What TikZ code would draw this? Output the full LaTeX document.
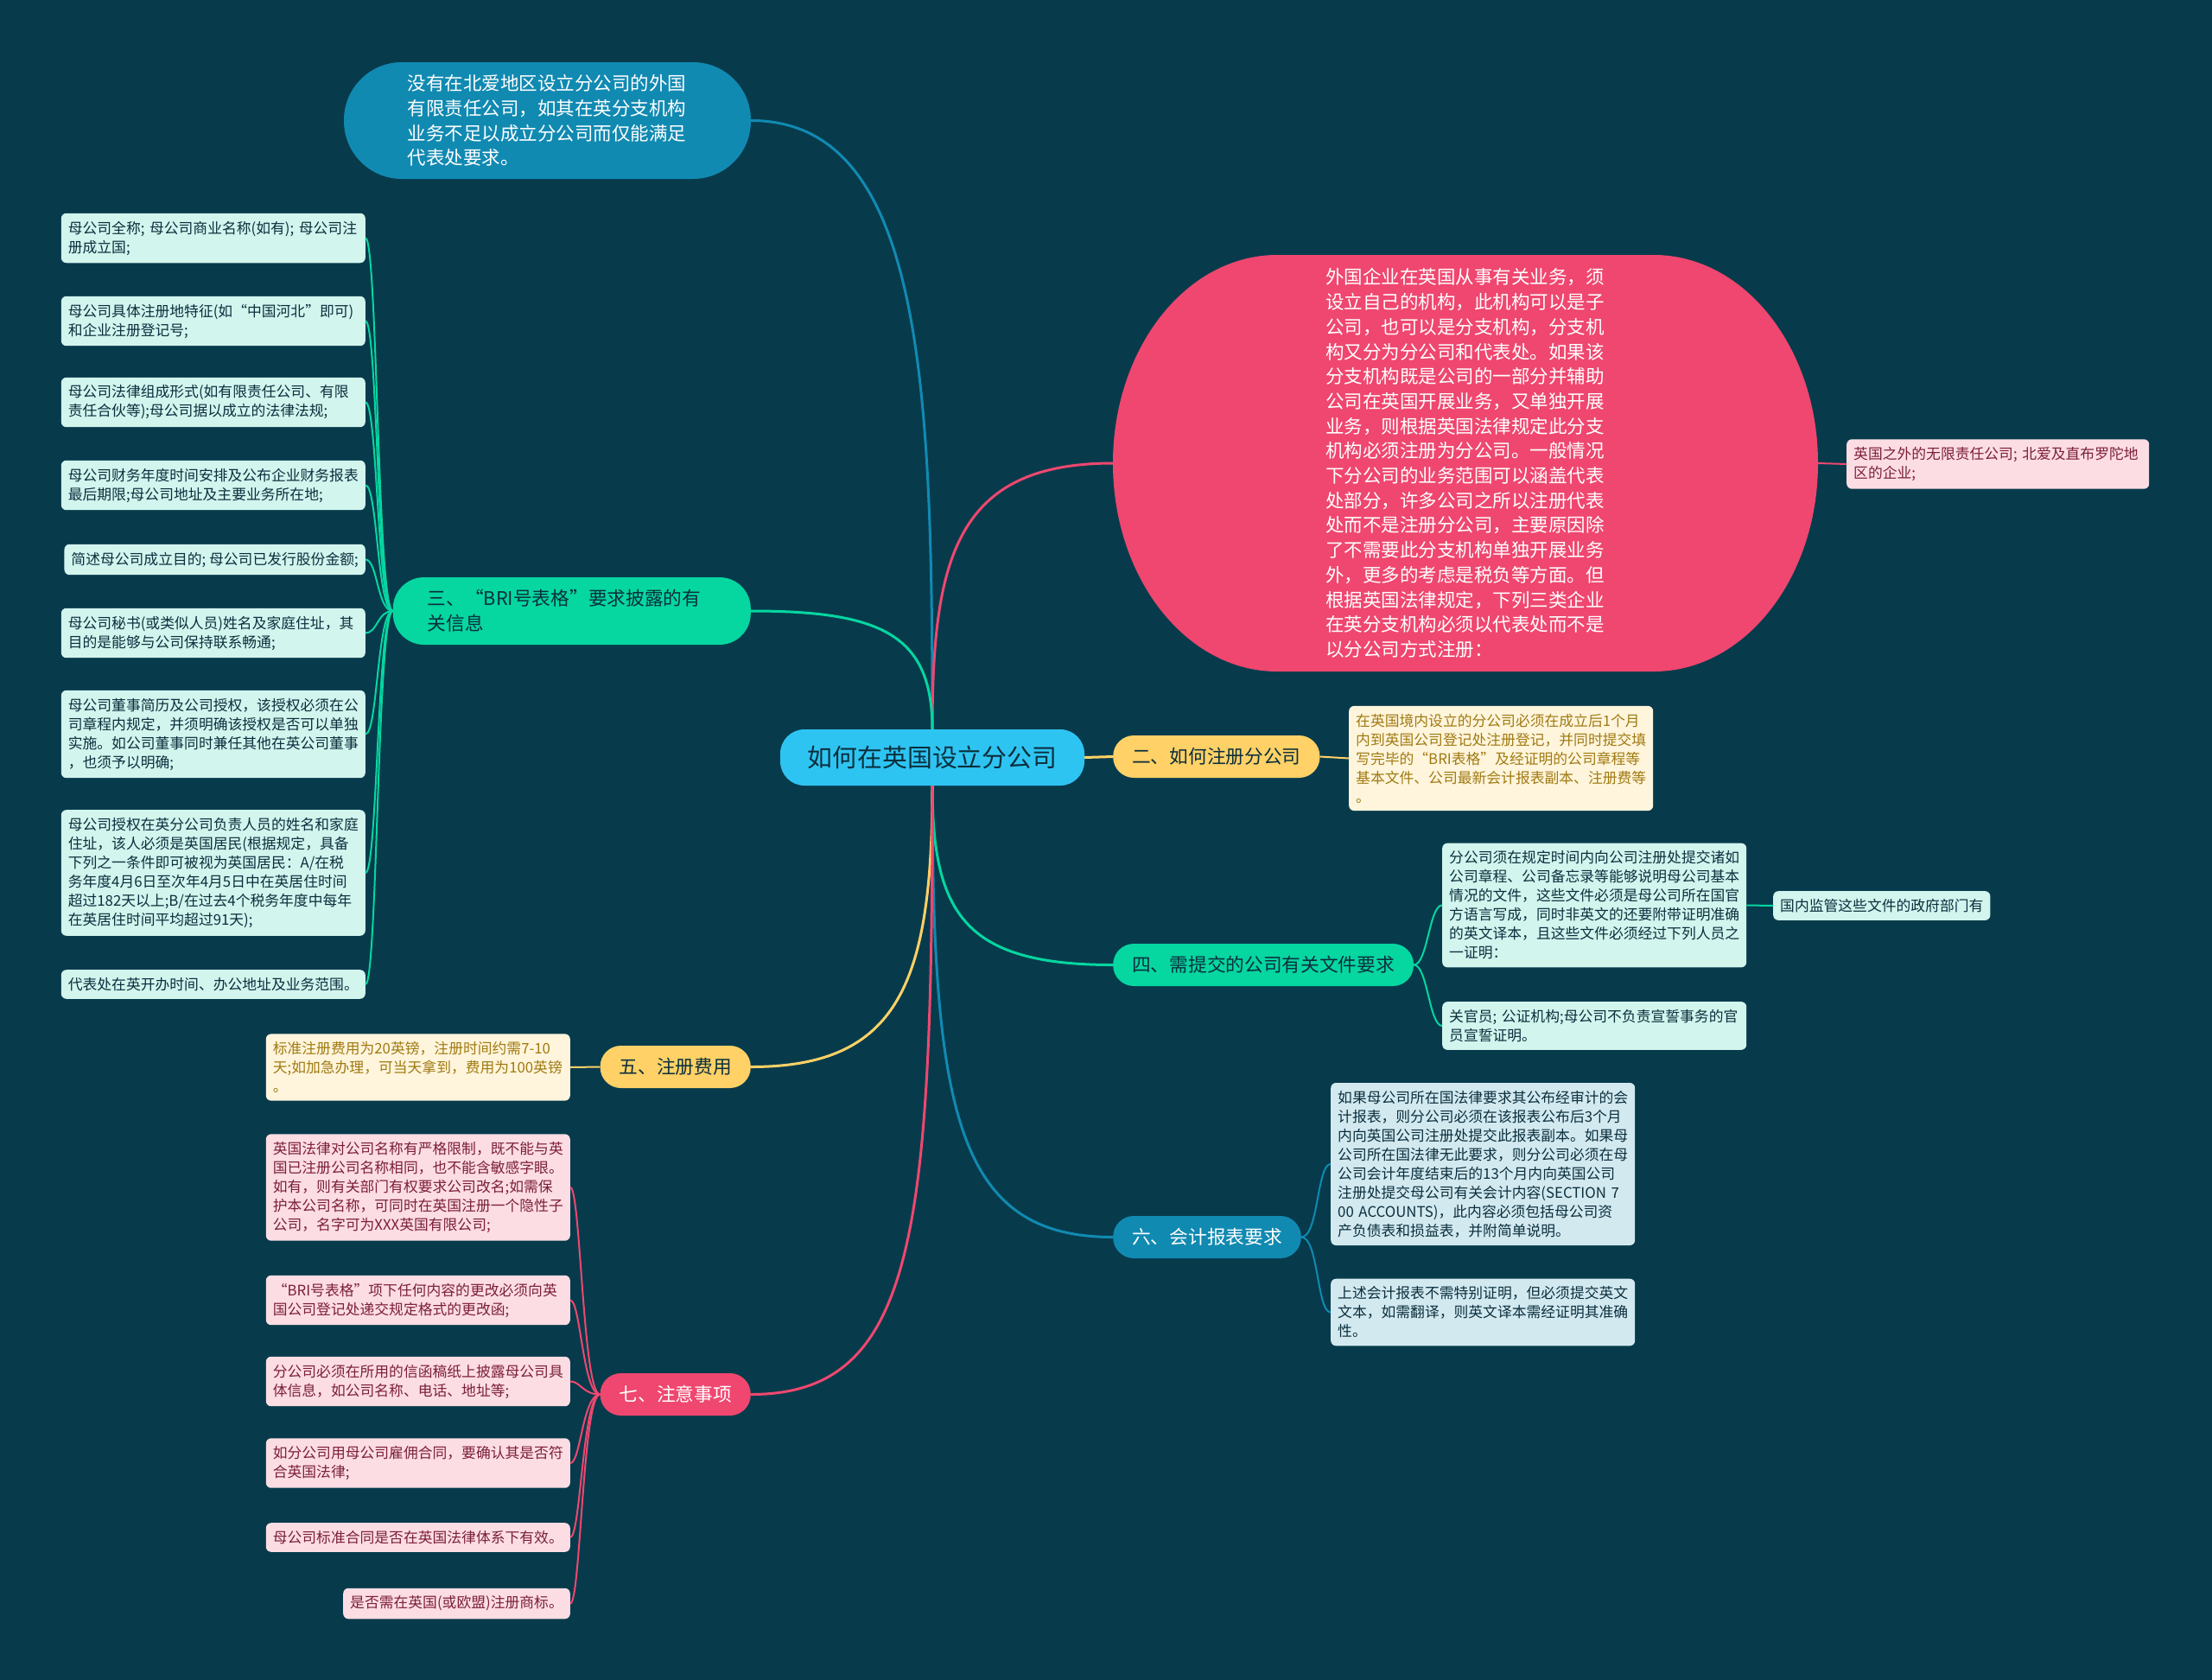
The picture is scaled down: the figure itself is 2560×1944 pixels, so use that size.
\documentclass[tikz,border=0pt]{standalone}
\usepackage{fontspec}
\setmainfont{Noto Sans CJK SC}
\usetikzlibrary{positioning}

\definecolor{bg}{HTML}{073B4C}
\definecolor{mapblue}{HTML}{118AB2}
\definecolor{mappink}{HTML}{EF476F}
\definecolor{mapgreen}{HTML}{06D6A0}
\definecolor{mapyellow}{HTML}{FFD166}
\definecolor{rootblue}{HTML}{2EC4F2}
\definecolor{inkdark}{HTML}{0B2F3D}
\definecolor{leafgreen}{HTML}{D2F5EE}
\definecolor{leafpink}{HTML}{FDDDE4}
\definecolor{inkpink}{HTML}{7B1F3B}
\definecolor{leafyellow}{HTML}{FFF5DC}
\definecolor{inkyellow}{HTML}{A07A12}
\definecolor{leafblue}{HTML}{D3E9F0}

\newcommand{\leaffont}{\fontsize{16.8}{22}\selectfont}
\newcommand{\bodyfont}{\fontsize{21.5}{28.7}\selectfont}

\begin{document}
\begin{tikzpicture}[x=1pt, y=-1pt,
    root/.style={fill=rootblue, text=inkdark, rounded corners=28pt,
                 minimum width=352pt, minimum height=65pt,
                 font=\fontsize{28.9}{34}\selectfont},
    branch/.style={rounded corners=24pt, minimum height=49pt,
                   inner xsep=22pt, font=\fontsize{21.7}{29}\selectfont},
    leafbox/.style={rounded corners=6pt, inner xsep=8pt, inner ysep=9pt,
                    font=\leaffont},
    leaf/.style={leafbox, text width=336pt, align=left},
    greenleaf/.style={fill=leafgreen, text=inkdark},
    pinkleaf/.style={fill=leafpink, text=inkpink},
    yellowleaf/.style={fill=leafyellow, text=inkyellow},
    blueleaf/.style={fill=leafblue, text=inkdark},
    link/.style={line width=3pt},
    twig/.style={line width=2pt}
  ]
  % Background
  \fill[bg] (0,0) rectangle (2560,1944);
  \useasboundingbox (0,0) rectangle (2560,1944);

  % Intro shape
  \fill[mappink] (1478,295) -- (1914,295)
    .. controls (2019,295) and (2104,403) .. (2104,536)
    .. controls (2104,669) and (2019,777) .. (1914,777) -- (1478,777)
    .. controls (1373,777) and (1288,669) .. (1288,536)
    .. controls (1288,403) and (1373,295) .. (1478,295) -- cycle;

  % Root and main branches
  \node[root] (root) at (1079,876.5) {如何在英国设立分公司};
  \node[fill=mapblue, text=white, rounded corners=67pt,
        minimum width=471pt, minimum height=135pt,
        text width=324pt, align=left, font=\bodyfont] (note) at (633.5,139.5)
        {没有在北爱地区设立分公司的外国\\有限责任公司，如其在英分支机构\\业务不足以成立分公司而仅能满足\\代表处要求。};
  \node[minimum width=816pt, minimum height=482pt, inner sep=0pt,
        text=white, text width=324pt, align=left, font=\bodyfont] (intro) at (1696,536)
        {外国企业在英国从事有关业务，须\\设立自己的机构，此机构可以是子\\公司，也可以是分支机构，分支机\\构又分为分公司和代表处。如果该\\分支机构既是公司的一部分并辅助\\公司在英国开展业务，又单独开展\\业务，则根据英国法律规定此分支\\机构必须注册为分公司。一般情况\\下分公司的业务范围可以涵盖代表\\处部分，许多公司之所以注册代表\\处而不是注册分公司，主要原因除\\了不需要此分支机构单独开展业务\\外，更多的考虑是税负等方面。但\\根据英国法律规定，下列三类企业\\在英分支机构必须以代表处而不是\\以分公司方式注册：};
  \node[branch, fill=mapgreen, text=inkdark, rounded corners=36pt,
        minimum height=78pt, inner xsep=40pt, text width=334pt, align=left,
        anchor=east] (sec3) at (869,707)
        {三、“BRI号表格”要求披露的有\\关信息};
  \node[branch, fill=mapyellow, text=inkdark, anchor=west] (sec2) at (1288,875.5) {二、如何注册分公司};
  \node[branch, fill=mapgreen, text=inkdark, anchor=west] (sec4) at (1288,1116.5) {四、需提交的公司有关文件要求};
  \node[branch, fill=mapblue, text=white, anchor=west] (sec6) at (1288,1431.5) {六、会计报表要求};
  \node[branch, fill=mapyellow, text=inkdark, anchor=east] (sec5) at (869,1234.5) {五、注册费用};
  \node[branch, fill=mappink, text=white, anchor=east] (sec7) at (869,1613.5) {七、注意事项};

  % Leaves of 三
  \node[leaf, greenleaf, anchor=east] (g1) at (423,275.5)
        {母公司全称; 母公司商业名称(如有); 母公司注\\册成立国;};
  \node[leaf, greenleaf, anchor=east] (g2) at (423,371.5)
        {母公司具体注册地特征(如“中国河北”即可)\\和企业注册登记号;};
  \node[leaf, greenleaf, anchor=east] (g3) at (423,465.5)
        {母公司法律组成形式(如有限责任公司、有限\\责任合伙等);母公司据以成立的法律法规;};
  \node[leaf, greenleaf, anchor=east] (g4) at (423,561.5)
        {母公司财务年度时间安排及公布企业财务报表\\最后期限;母公司地址及主要业务所在地;};
  \node[leafbox, greenleaf, anchor=east] (g5) at (423,647.5)
        {简述母公司成立目的; 母公司已发行股份金额;};
  \node[leaf, greenleaf, anchor=east] (g6) at (423,732.5)
        {母公司秘书(或类似人员)姓名及家庭住址，其\\目的是能够与公司保持联系畅通;};
  \node[leaf, greenleaf, anchor=east] (g7) at (423,849.5)
        {母公司董事简历及公司授权，该授权必须在公\\司章程内规定，并须明确该授权是否可以单独\\实施。如公司董事同时兼任其他在英公司董事\\，也须予以明确;};
  \node[leaf, greenleaf, anchor=east] (g8) at (423,1010)
        {母公司授权在英分公司负责人员的姓名和家庭\\住址，该人必须是英国居民(根据规定，具备\\下列之一条件即可被视为英国居民：A/在税\\务年度4月6日至次年4月5日中在英居住时间\\超过182天以上;B/在过去4个税务年度中每年\\在英居住时间平均超过91天);};
  \node[leafbox, greenleaf, anchor=east] (g9) at (423,1139)
        {代表处在英开办时间、办公地址及业务范围。};

  % Leaves of 七
  \node[leaf, pinkleaf, anchor=east] (p1) at (660,1374)
        {英国法律对公司名称有严格限制，既不能与英\\国已注册公司名称相同，也不能含敏感字眼。\\如有，则有关部门有权要求公司改名;如需保\\护本公司名称，可同时在英国注册一个隐性子\\公司，名字可为XXX英国有限公司;};
  \node[leaf, pinkleaf, anchor=east] (p2) at (660,1504.5)
        {“BRI号表格”项下任何内容的更改必须向英\\国公司登记处递交规定格式的更改函;};
  \node[leaf, pinkleaf, anchor=east] (p3) at (660,1598.5)
        {分公司必须在所用的信函稿纸上披露母公司具\\体信息，如公司名称、电话、地址等;};
  \node[leaf, pinkleaf, anchor=east] (p4) at (660,1693)
        {如分公司用母公司雇佣合同，要确认其是否符\\合英国法律;};
  \node[leaf, pinkleaf, anchor=east] (p5) at (660,1779)
        {母公司标准合同是否在英国法律体系下有效。};
  \node[leafbox, pinkleaf, anchor=east] (p6) at (660,1855.5)
        {是否需在英国(或欧盟)注册商标。};

  % Leaves of 五 and 二
  \node[leaf, yellowleaf, anchor=east] (f1) at (660,1235)
        {标准注册费用为20英镑，注册时间约需7-10\\天;如加急办理，可当天拿到，费用为100英镑\\。};
  \node[leaf, yellowleaf, anchor=west] (r1) at (1561,877.5)
        {在英国境内设立的分公司必须在成立后1个月\\内到英国公司登记处注册登记，并同时提交填\\写完毕的“BRI表格”及经证明的公司章程等\\基本文件、公司最新会计报表副本、注册费等\\。};

  % Leaves of 四
  \node[leaf, greenleaf, anchor=west] (d1) at (1669,1047.5)
        {分公司须在规定时间内向公司注册处提交诸如\\公司章程、公司备忘录等能够说明母公司基本\\情况的文件，这些文件必须是母公司所在国官\\方语言写成，同时非英文的还要附带证明准确\\的英文译本，且这些文件必须经过下列人员之\\一证明：};
  \node[leaf, greenleaf, anchor=west] (d2) at (1669,1187)
        {关官员; 公证机构;母公司不负责宣誓事务的官\\员宣誓证明。};
  \node[leafbox, greenleaf, anchor=west] (d3) at (2052,1048)
        {国内监管这些文件的政府部门有};

  % Leaves of 六
  \node[leaf, blueleaf, anchor=west] (a1) at (1540,1347)
        {如果母公司所在国法律要求其公布经审计的会\\计报表，则分公司必须在该报表公布后3个月\\内向英国公司注册处提交此报表副本。如果母\\公司所在国法律无此要求，则分公司必须在母\\公司会计年度结束后的13个月内向英国公司\\注册处提交母公司有关会计内容(SECTION 7\\00 ACCOUNTS)，此内容必须包括母公司资\\产负债表和损益表，并附简单说明。};
  \node[leaf, blueleaf, anchor=west] (a2) at (1540,1518.5)
        {上述会计报表不需特别证明，但必须提交英文\\文本，如需翻译，则英文译本需经证明其准确\\性。};

  % Leaf of intro
  \node[leaf, pinkleaf, text width=334pt, anchor=west] (k1) at (2137,537)
        {英国之外的无限责任公司; 北爱及直布罗陀地\\区的企业;};

  % Root links
  \draw[link, mapblue] (root.north) .. controls +(0,-394) and +(200,0) .. (note.east);
  \draw[link, mappink] (root.north) .. controls +(0,-200) and +(-180,0) .. (intro.west);
  \draw[link, mapgreen] (root.north) .. controls +(0,-110) and +(150,0) .. (sec3.east);
  \draw[link, mapyellow] (root.east) -- (sec2.west);
  \draw[link, mapgreen] (root.south) .. controls +(0,150) and +(-170,0) .. (sec4.west);
  \draw[link, mapblue] (root.south) .. controls +(0,380) and +(-180,0) .. (sec6.west);
  \draw[link, mapyellow] (root.south) .. controls +(0,230) and +(170,0) .. (sec5.east);
  \draw[link, mappink] (root.south) .. controls +(0,520) and +(190,0) .. (sec7.east);

  % Leaf links
  \foreach \i in {1,...,9}
    \draw[twig, mapgreen] (sec3.west) .. controls +(-18,0) and +(14,0) .. (g\i.east);
  \foreach \i in {1,...,6}
    \draw[twig, mappink] (sec7.west) .. controls +(-20,0) and +(12,0) .. (p\i.east);
  \foreach \i in {1,2}
    \draw[twig, mapgreen] (sec4.east) .. controls +(16,0) and +(-15,0) .. (d\i.west);
  \foreach \i in {1,2}
    \draw[twig, mapblue] (sec6.east) .. controls +(20,0) and +(-16,0) .. (a\i.west);
  \draw[twig, mapyellow] (sec5.west) -- (f1.east);
  \draw[twig, mapyellow] (sec2.east) -- (r1.west);
  \draw[twig, mapgreen] (d1.east) -- (d3.west);
  \draw[twig, mappink] (intro.east) -- (k1.west);
\end{tikzpicture}
\end{document}
